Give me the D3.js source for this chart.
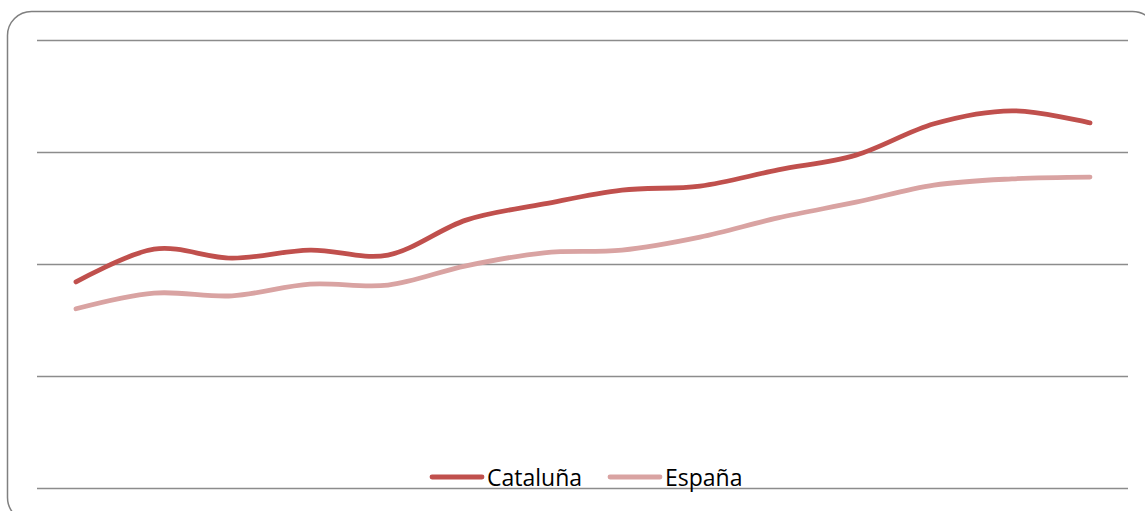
<!DOCTYPE html>
<html>
<head>
<meta charset="utf-8">
<script src="https://cdn.jsdelivr.net/npm/d3@7"></script>
<style>
  html, body { margin: 0; padding: 0; background: #fff; }
  svg { display: block; }
</style>
</head>
<body>
<svg id="chart" width="1145" height="511"></svg>
<script>
// Values (no axis labels shown, arbitrary 0-100 scale)
const periods = ["1", "2", "3", "4", "5", "6", "7", "8", "9", "10", "11", "12", "13", "14"];
const cataluna = [46.0, 53.3, 51.3, 53.1, 52.0, 59.8, 63.4, 66.5, 67.4, 71.0, 74.3, 81.3, 84.2, 81.5];
const espana = [40.0, 43.5, 42.9, 45.5, 45.3, 49.6, 52.5, 53.1, 56.0, 60.3, 63.8, 67.6, 69.0, 69.4];
const gridTicks = [0, 25, 50, 75, 100];

const series = [
  { name: "Cataluña", values: cataluna, color: "#c0504d" },
  { name: "España", values: espana, color: "#d9a3a2" }
];

const svg = d3.select("#chart");

// outer chart frame with rounded corners (runs past the right and bottom edges)
svg.append("rect")
  .attr("x", 7.5)
  .attr("y", 11.5)
  .attr("width", 1149)
  .attr("height", 510)
  .attr("rx", 24)
  .attr("fill", "#fff")
  .attr("stroke", "#808080")
  .attr("stroke-width", 1.5);

const plotLeft = 37, plotRight = 1128;

const x = d3.scalePoint()
  .domain(periods)
  .range([76, 1090]);

const y = d3.scaleLinear()
  .domain([0, 100])
  .range([488, 40]);

svg.append("g")
  .attr("transform", `translate(${plotLeft},0)`)
  .call(d3.axisLeft(y).tickValues(gridTicks).tickSize(-(plotRight - plotLeft)).tickFormat(""))
  .call(axis => {
    axis.select(".domain").remove();
    axis.selectAll(".tick line").attr("stroke", "#8c8c8c").attr("stroke-width", 1.6);
  });

const line = d3.line()
  .x((d, i) => x(periods[i]))
  .y(d => y(d))
  .curve(d3.curveCardinal.tension(0));

// draw the lighter series first so Cataluña sits on top
series.slice().reverse().forEach(s => {
  svg.append("path")
    .attr("d", line(s.values))
    .attr("fill", "none")
    .attr("stroke", s.color)
    .attr("stroke-width", 4.8)
    .attr("stroke-linecap", "round")
    .attr("stroke-linejoin", "round");
});

// legend
const legendItems = [
  { name: "Cataluña", color: "#c0504d", x: 432 },
  { name: "España", color: "#d9a3a2", x: 610 }
];

legendItems.forEach(item => {
  svg.append("line")
    .attr("x1", item.x)
    .attr("x2", item.x + 50)
    .attr("y1", 477)
    .attr("y2", 477)
    .attr("stroke", item.color)
    .attr("stroke-width", 4.8)
    .attr("stroke-linecap", "round");

  svg.append("text")
    .attr("x", item.x + 55)
    .attr("y", 486)
    .attr("font-family", "'Open Sans', sans-serif")
    .attr("font-size", 23)
    .attr("fill", "#000")
    .text(item.name);
});
</script>
</body>
</html>
